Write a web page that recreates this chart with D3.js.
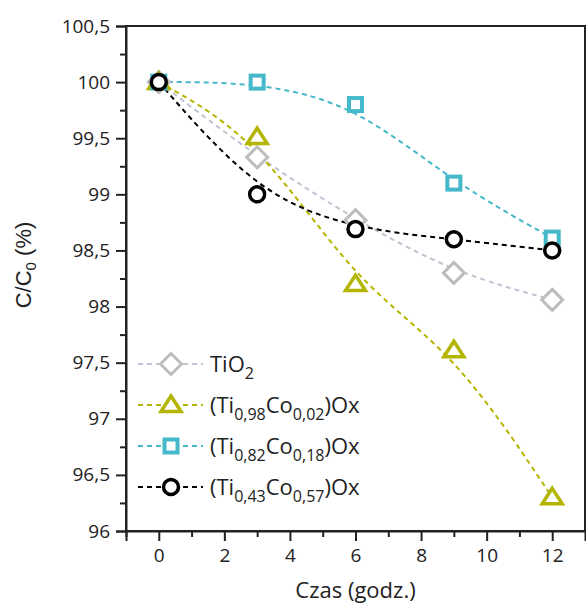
<!DOCTYPE html>
<html><head><meta charset="utf-8">
<script src="https://cdn.jsdelivr.net/npm/d3@7"></script>
<style>body{margin:0;background:#fff}svg{display:block}text{font-family:"Open Sans",sans-serif;fill:#222}</style>
</head><body>
<svg id="c" width="586" height="603"></svg>
<script>
const times = [0, 3, 6, 9, 12];
const tio2 = [100, 99.33, 98.77, 98.3, 98.06];
const ti098 = [100, 99.51, 98.2, 97.61, 96.3];
const ti082 = [100, 100, 99.8, 99.1, 98.61];
const ti043 = [100, 99.0, 98.69, 98.6, 98.5];
const xTicks = [0, 2, 4, 6, 8, 10, 12];
const yTicks = [96, 96.5, 97, 97.5, 98, 98.5, 99, 99.5, 100, 100.5];
const seriesNames = ["TiO2", "Ti098", "Ti082", "Ti043"];

const svg = d3.select("#c");
const L = 126, R = 585, T = 26, B = 531;
const x = d3.scaleLinear().domain([-1, 13]).range([L, R]);
const y = d3.scaleLinear().domain([96, 100.5]).range([B, T]);
const fmt = d => String(d).replace(".", ",");

const series = [
  {name: seriesNames[0], vals: tio2, color: "#bdbdbd", lineColor: "#c2c2d2", shape: "diamond"},
  {name: seriesNames[1], vals: ti098, color: "#b3b500", lineColor: "#b3b500", shape: "triangle"},
  {name: seriesNames[2], vals: ti082, color: "#45b8c9", lineColor: "#45b8c9", shape: "square"},
  {name: seriesNames[3], vals: ti043, color: "#000000", lineColor: "#000000", shape: "circle"}
];

// frame
svg.append("rect").attr("x", L).attr("y", T).attr("width", R - L).attr("height", B - T)
  .attr("fill", "none").attr("stroke", "#222").attr("stroke-width", 2);

// axes
const yAxis = d3.axisLeft(y).tickValues(yTicks).tickFormat(fmt).tickSize(10).tickPadding(6);
svg.append("g").attr("transform", `translate(${L},0)`).call(yAxis);
const yMinor = d3.range(96.25, 100.5, 0.5);
svg.append("g").attr("transform", `translate(${L},0)`)
  .call(d3.axisLeft(y).tickValues(yMinor).tickFormat("").tickSize(6))
  .select(".domain").remove();
const xAxis = d3.axisBottom(x).tickValues(xTicks).tickFormat(fmt).tickSize(10).tickPadding(8);
svg.append("g").attr("transform", `translate(0,${B})`).call(xAxis);
svg.append("g").attr("transform", `translate(0,${B})`)
  .call(d3.axisBottom(x).tickValues([-1, 1, 3, 5, 7, 9, 11]).tickFormat("").tickSize(6))
  .select(".domain").remove();
svg.selectAll(".domain").attr("stroke", "#222").attr("stroke-width", 2);
svg.selectAll(".tick line").attr("stroke", "#222").attr("stroke-width", 2);
svg.selectAll(".tick text").style("font-size", "19px").style("font-family", "'Open Sans',sans-serif").attr("fill", "#222");

// axis titles
svg.append("text").attr("x", x(6)).attr("y", 598).attr("text-anchor", "middle")
  .style("font-size", "22px").text("Czas (godz.)");
const yl = svg.append("text").attr("transform", `translate(31,${265}) rotate(-90)`)
  .attr("text-anchor", "middle").style("font-size", "22px").style("font-family", "'Liberation Sans',Arial,sans-serif");
yl.append("tspan").text("C/C");
yl.append("tspan").attr("dy", 5).style("font-size", "15px").text("0");
yl.append("tspan").attr("dy", -5).text(" (%)");

function marker(g, shape, color, cx, cy) {
  if (shape === "diamond") {
    const s = 10.5;
    g.append("path").attr("d", `M${cx},${cy - s}L${cx + s},${cy}L${cx},${cy + s}L${cx - s},${cy}Z`)
      .attr("fill", "#fff").attr("stroke", color).attr("stroke-width", 3);
  } else if (shape === "triangle") {
    g.append("path").attr("d", `M${cx},${cy - 9}L${cx + 10},${cy + 6.5}L${cx - 10},${cy + 6.5}Z`)
      .attr("fill", "#fff").attr("stroke", color).attr("stroke-width", 3.5).attr("stroke-linejoin", "miter");
  } else if (shape === "square") {
    g.append("rect").attr("x", cx - 6.5).attr("y", cy - 6.5).attr("width", 13).attr("height", 13)
      .attr("fill", "#fff").attr("stroke", color).attr("stroke-width", 4);
  } else {
    g.append("circle").attr("cx", cx).attr("cy", cy).attr("r", 7.5)
      .attr("fill", "#fff").attr("stroke", color).attr("stroke-width", 3.5);
  }
}

const line = d3.line().x(d => x(d[0])).y(d => y(d[1])).curve(d3.curveBasis);
series.forEach(s => {
  const pts = times.map((t, i) => [t, s.vals[i]]);
  svg.append("path").attr("d", line(pts)).attr("fill", "none").attr("stroke", s.lineColor)
    .attr("stroke-width", 2).attr("stroke-dasharray", "5,4");
});
series.forEach(s => {
  const g = svg.append("g");
  times.forEach((t, i) => marker(g, s.shape, s.color, x(t), y(s.vals[i])));
});

// legend
const legY = [364, 405, 446, 487];
const labels = [
  [["Ti", 0], ["O", 0], ["2", 1]],
  [["(Ti", 0], ["0,98", 1], ["Co", 0], ["0,02", 1], [")Ox", 0]],
  [["(Ti", 0], ["0,82", 1], ["Co", 0], ["0,18", 1], [")Ox", 0]],
  [["(Ti", 0], ["0,43", 1], ["Co", 0], ["0,57", 1], [")Ox", 0]]
];
series.forEach((s, i) => {
  const g = svg.append("g");
  g.append("line").attr("x1", 138).attr("x2", 203).attr("y1", legY[i]).attr("y2", legY[i])
    .attr("stroke", s.lineColor).attr("stroke-width", 2).attr("stroke-dasharray", "5,4");
  marker(g, s.shape, s.color, 171, legY[i]);
  const t = g.append("text").attr("x", 210).attr("y", legY[i] + 8).style("font-size", "22px");
  let sub = false;
  labels[i].forEach(([txt, isSub]) => {
    const ts = t.append("tspan").text(txt);
    if (isSub && !sub) { ts.attr("dy", 7).style("font-size", "16px"); sub = true; }
    else if (isSub) { ts.style("font-size", "16px"); }
    else if (!isSub && sub) { ts.attr("dy", -7); sub = false; }
  });
});
</script>
</body></html>
